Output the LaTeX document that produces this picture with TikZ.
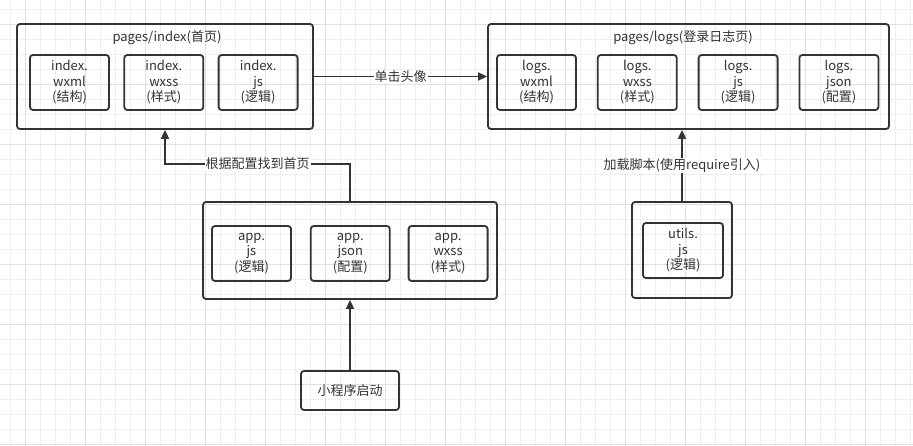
\documentclass[tikz,border=0pt]{standalone}
\usepackage{fontspec}
\setmainfont{Noto Sans CJK SC}
\usetikzlibrary{arrows.meta, positioning}
\definecolor{ink}{HTML}{333333}
\definecolor{gridmin}{HTML}{EFEFEF}
\definecolor{gridmaj}{HTML}{E0E0E0}
\tikzset{outer/.style={rectangle,draw=ink,line width=1.8pt,rounded corners=3pt,inner sep=0pt},file/.style={rectangle,draw=ink,line width=1.8pt,rounded corners=3pt,align=center,inner sep=0pt,minimum width=79pt,minimum height=55pt,text=ink,font=\fontsize{13}{15.5}\selectfont},title/.style={text=ink,font=\fontsize{13}{14}\selectfont,inner sep=1pt},line/.style={draw=ink,line width=1.8pt,-{Triangle[length=9pt,width=8pt]}},tag/.style={fill=white,text=ink,font=\fontsize{13}{14}\selectfont,inner sep=1pt}}

\begin{document}
\begin{tikzpicture}[x=1pt,y=-1pt]
\fill[white] (0,0) rectangle (913,446);
\useasboundingbox (0,0) rectangle (913,446);
% grid
\foreach \x in {0,...,60} \draw[gridmin,line width=1pt] ({10.3+15*\x},0) -- ++(0,446);
\foreach \y in {0,...,29} \draw[gridmin,line width=1pt] (0,{9.3+15*\y}) -- ++(913,0);
\foreach \x in {0,...,15} \draw[gridmaj,line width=1pt] ({25.3+60*\x},0) -- ++(0,446);
\foreach \y in {0,...,7} \draw[gridmaj,line width=1pt] (0,{24.3+60*\y}) -- ++(913,0);

% pages/index
\node[outer, minimum width=296pt, minimum height=105pt] (idx) at (165,76.5) {};
\node[title] (idxt) at (167,37.5) {pages/index(首页)};
\node[file] (iwxml) at (69.5,82.5) {index.\\wxml\\(结构)};
\node[file, right=13.5pt of iwxml] (iwxss) {index.\\wxss\\(样式)};
\node[file, right=13.5pt of iwxss] (ijs) {index.\\js\\(逻辑)};

% pages/logs
\node[outer, minimum width=401pt, minimum height=105pt] (logs) at (688.5,76.5) {};
\node[title] (logst) at (683,37.5) {pages/logs(登录日志页)};
\node[file] (lwxml) at (536.5,82.5) {logs.\\wxml\\(结构)};
\node[file, right=20pt of lwxml] (lwxss) {logs.\\wxss\\(样式)};
\node[file, right=20pt of lwxss] (ljs) {logs.\\js\\(逻辑)};
\node[file, right=20pt of ljs] (ljson) {logs.\\json\\(配置)};

% app
\node[outer, minimum width=294pt, minimum height=97pt] (app) at (350,250.5) {};
\node[file] (ajs) at (251.5,253.5) {app.\\js\\(逻辑)};
\node[file, right=18pt of ajs] (ajson) {app.\\json\\(配置)};
\node[file, right=17pt of ajson] (awxss) {app.\\wxss\\(样式)};

% utils
\node[outer, minimum width=100pt, minimum height=96pt] (utils) at (682,250) {};
\node[file, minimum width=80pt] (ujs) at (683,250.5) {utils.\\js\\(逻辑)};

% start
\node[file, minimum width=98pt, minimum height=39pt] (start) at (350,390.5) {小程序启动};

\coordinate (bend) at (350,164);
\draw[line] (idx) -- node[tag] {单击头像} (logs);
\draw[line] (app.north) -- (bend) -| node[tag, pos=0.25] {根据配置找到首页} (idx.south);
\draw[line] (utils.north) -- node[tag] {加载脚本(使用require引入)} (utils.north |- logs.south);
\draw[line] (start) -- (app);
\end{tikzpicture}
\end{document}
